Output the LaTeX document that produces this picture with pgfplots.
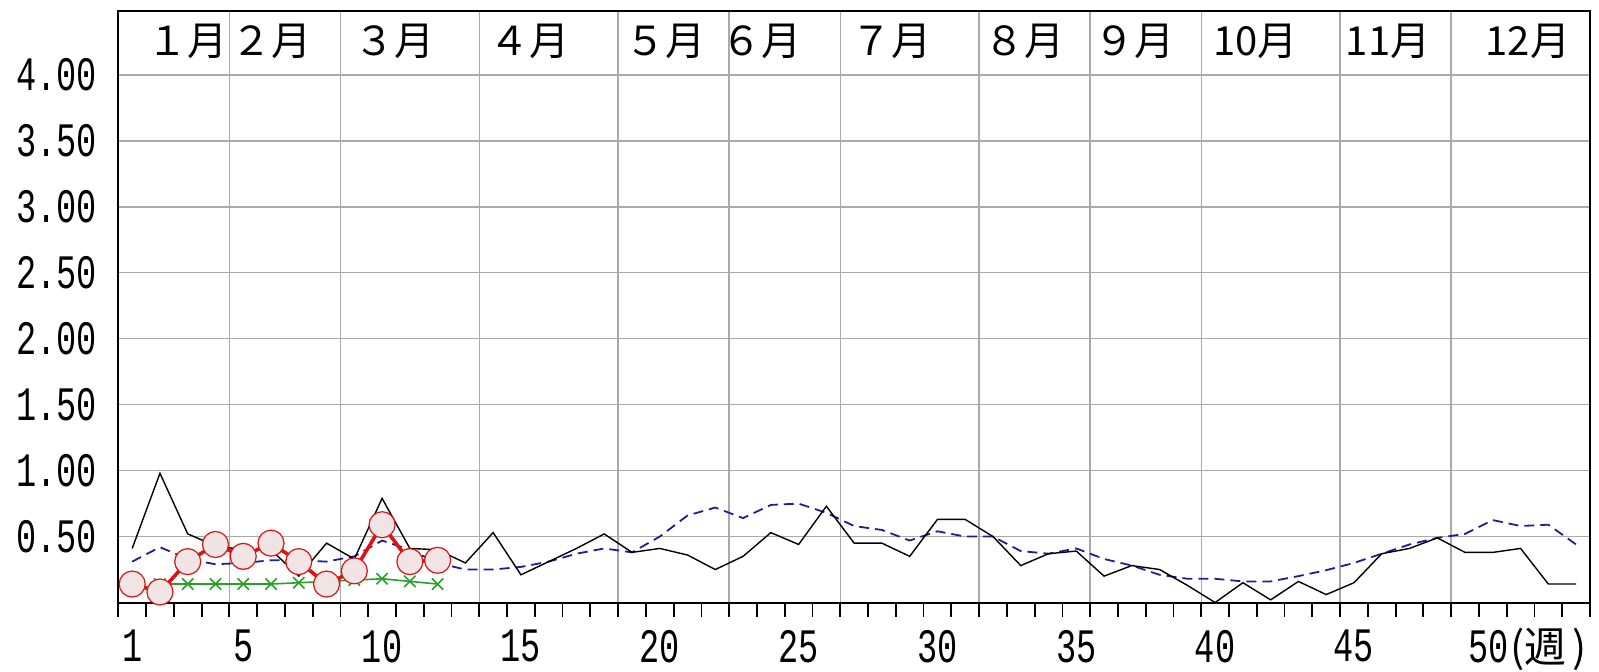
\documentclass[border=0pt]{standalone}
\usepackage{fontspec}
\usepackage{pgfplots}
\pgfplotsset{compat=1.18}
\newfontfamily\numfont[FakeStretch=0.70]{Liberation Mono}
\newfontfamily\cjk{Noto Sans CJK JP}
\definecolor{gridc}{RGB}{170,170,170}
\definecolor{navy}{RGB}{30,30,150}
\definecolor{redc}{RGB}{220,20,20}
\definecolor{greenc}{RGB}{40,160,40}
\definecolor{circfill}{RGB}{240,228,228}
\begin{document}
\begin{tikzpicture}
\useasboundingbox (-59.15pt,-34.25pt) rectangle (740.35pt,301.25pt);
\begin{axis}[
  at={(0,0)}, anchor=south west,
  scale only axis, width=735.85pt, height=295.75pt,
  xmin=0.5, xmax=53.5, ymin=0, ymax=4.485,
  axis line style={black, line width=1pt},
  tick pos=left,
  tick align=outside,
  xtick={4.5,8.5,13.5,18.5,22.5,26.5,31.5,35.5,39.5,44.5,48.5},
  xticklabels={},
  minor xtick={0.5,1.5,...,53.5},
  major tick length=7pt, minor tick length=7pt,
  xtick style={black, line width=0.9pt},
  minor x tick style={black, line width=0.9pt},
  ytick={0.5,1,1.5,2,2.5,3,3.5,4},
  yticklabels={0.50,1.00,1.50,2.00,2.50,3.00,3.50,4.00},
  ytick style={draw=none},
  xmajorgrids, ymajorgrids,
  grid style={gridc, line width=0.7pt},
  extra x ticks={1,5,10,15,20,25,30,35,40,45,50},
  extra x tick labels={1,5,10,15,20,25,30,35,40,45,{50\rlap{\smash{\cjk\fontsize{21}{21}\selectfont\kern1pt(週\kern3pt)}}\hspace*{4.5pt}}},
  extra x tick style={grid=none, major tick length=0pt},
  xticklabel style={font=\numfont\fontsize{24}{24}\selectfont, inner sep=0pt, anchor=north, yshift=-13.5pt},
  yticklabel style={font=\numfont\fontsize{24}{24}\selectfont, inner sep=0pt, anchor=east, xshift=-3.5pt},
]
\addplot[navy, line width=0.9pt, dash pattern=on 5pt off 3pt] coordinates {
(1,0.31)(2,0.42)(3,0.33)(4,0.29)(5,0.30)(6,0.32)(7,0.32)(8,0.31)(9,0.35)(10,0.47)
(11,0.40)(12,0.30)(13,0.25)(14,0.25)(15,0.27)(16,0.31)(17,0.37)(18,0.41)(19,0.38)(20,0.50)
(21,0.66)(22,0.72)(23,0.64)(24,0.74)(25,0.75)(26,0.68)(27,0.58)(28,0.55)(29,0.47)(30,0.54)
(31,0.50)(32,0.50)(33,0.39)(34,0.37)(35,0.41)(36,0.33)(37,0.28)(38,0.21)(39,0.18)(40,0.18)
(41,0.16)(42,0.16)(43,0.20)(44,0.245)(45,0.30)(46,0.37)(47,0.44)(48,0.49)(49,0.52)(50,0.625)
(51,0.58)(52,0.59)(53,0.44)};
\addplot[black, line width=0.7pt] coordinates {
(1,0.41)(2,0.98)(3,0.52)(4,0.43)(5,0.40)(6,0.40)(7,0.20)(8,0.45)(9,0.33)(10,0.79)
(11,0.41)(12,0.40)(13,0.30)(14,0.53)(15,0.21)(16,0.31)(17,0.41)(18,0.52)(19,0.38)(20,0.41)
(21,0.36)(22,0.25)(23,0.35)(24,0.53)(25,0.44)(26,0.73)(27,0.45)(28,0.45)(29,0.35)(30,0.63)
(31,0.63)(32,0.50)(33,0.28)(34,0.37)(35,0.39)(36,0.20)(37,0.28)(38,0.25)(39,0.13)(40,0.00)
(41,0.15)(42,0.02)(43,0.16)(44,0.06)(45,0.15)(46,0.37)(47,0.41)(48,0.49)(49,0.38)(50,0.38)
(51,0.41)(52,0.14)(53,0.14)};
\addplot[greenc, line width=0.8pt, mark=x, mark size=4pt, mark options={solid}] coordinates {
(2,0.14)(3,0.14)(4,0.14)(5,0.14)(6,0.14)(7,0.15)(8,0.16)(9,0.17)(10,0.18)(11,0.16)(12,0.14)};
\addplot[redc, line width=1.8pt, mark=*, mark size=6.5pt, mark options={fill=circfill, draw=redc, line width=0.6pt}] coordinates {
(1,0.14)(2,0.08)(3,0.31)(4,0.44)(5,0.35)(6,0.45)(7,0.31)(8,0.14)(9,0.24)(10,0.59)(11,0.31)(12,0.32)};
\begin{scope}[every node/.style={font=\cjk\fontsize{20}{20}\selectfont, inner sep=0pt}]
\node at (axis cs:3.0,4.257) {１月};
\node at (axis cs:6.03,4.257) {２月};
\node at (axis cs:10.43,4.257) {３月};
\node at (axis cs:15.32,4.257) {４月};
\node at (axis cs:20.19,4.257) {５月};
\node at (axis cs:23.68,4.257) {６月};
\node at (axis cs:28.36,4.257) {７月};
\node at (axis cs:33.12,4.257) {８月};
\node at (axis cs:37.08,4.257) {９月};
\node at (axis cs:41.45,4.257) {10月};
\node at (axis cs:46.23,4.257) {11月};
\node at (axis cs:51.26,4.257) {12月};
\end{scope}
\end{axis}
\end{tikzpicture}
\end{document}
